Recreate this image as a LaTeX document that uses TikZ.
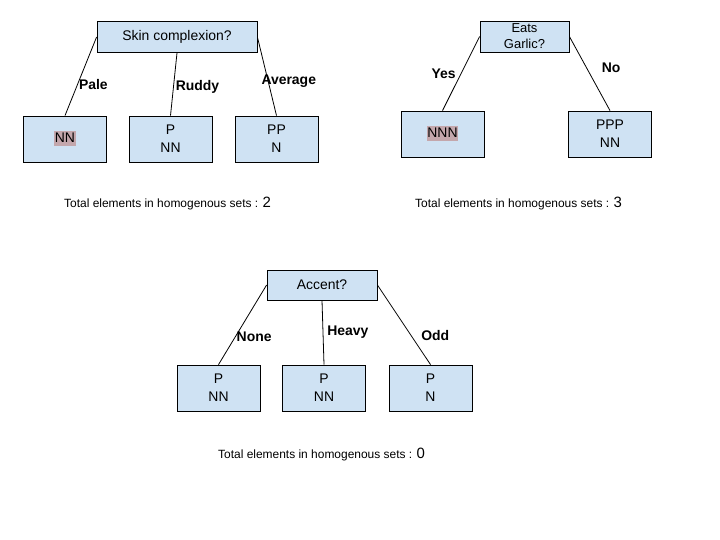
\documentclass[tikz,border=0pt]{standalone}
\usepackage{fontspec}
\setmainfont{Liberation Sans}
\definecolor{boxblue}{HTML}{CFE2F3}
\definecolor{hlpink}{HTML}{C4A7AC}
\newcommand{\hlset}[1]{{\setlength{\fboxsep}{0.5bp}\colorbox{hlpink}{\rule[-3bp]{0pt}{14bp}#1}}}

\begin{document}
\begin{tikzpicture}[
    x=1bp, y=-1bp,
    question/.style={draw, fill=boxblue, line width=0.8bp, minimum height=31bp, inner sep=1bp, align=center, font=\fontsize{14}{16}\selectfont},
    leaf/.style={draw, fill=boxblue, line width=0.8bp, minimum width=83bp, minimum height=46bp, inner sep=1bp, align=center, font=\fontsize{14}{18}\selectfont},
    edge/.style={line width=0.8bp, black},
    lbl/.style={font=\fontsize{14}{16}\selectfont\bfseries, inner sep=1bp},
    total/.style={anchor=base west, inner sep=0pt, font=\fontsize{12}{14}\selectfont}
  ]
  \useasboundingbox (0,0) rectangle (720,540);

  % skin complexion
  \node[question, minimum width=160bp] (skin) at (177,37) {Skin complexion?};
  \node[leaf] (skinpale)  at (65,139)    {\hlset{NN}};
  \node[leaf] (skinruddy) at (170.5,139) {P\\NN};
  \node[leaf] (skinavg)   at (276.5,139) {PP\\N};

  \draw[edge] (skin.west)  -- (skinpale.north)  node[pos=.6, right, lbl]        (lpale)  {Pale};
  \draw[edge] (skin.south) -- (skinruddy.north) node[pos=.55, right=1bp, lbl]   (lruddy) {Ruddy};
  \draw[edge] (skin.east)  -- (skinavg.north)   node[pos=.56, right=-8bp, lbl]  (lavg)   {Average};

  \node[total] (skintotal) at (64,208) {Total elements in homogenous sets : {\fontsize{15}{15}\selectfont 2}};

  % eats garlic
  \node[question, minimum width=89bp, font=\fontsize{13}{16}\selectfont] (garlic) at (524.5,36.5) {Eats\\Garlic?};
  \node[leaf] (garlicyes) at (442.5,134) {\hlset{NNN}};
  \node[leaf] (garlicno)  at (610,134)   {PPP\\NN};

  \draw[edge] (garlic.west) -- (garlicyes.north) node[pos=.5, left=4bp, lbl]   (lyes) {Yes};
  \draw[edge] (garlic.east) -- (garlicno.north)  node[pos=.42, right=14bp, lbl] (lno)  {No};

  \node[total] (garlictotal) at (415,208) {Total elements in homogenous sets : {\fontsize{15}{15}\selectfont 3}};

  % accent
  \node[question, minimum width=110bp, minimum height=30bp] (accent) at (322,285) {Accent?};
  \node[leaf] (accnone)  at (218.5,388) {P\\NN};
  \node[leaf] (accheavy) at (324,388)   {P\\NN};
  \node[leaf] (accodd)   at (430.5,388) {P\\N};

  \draw[edge] (accent.west)  -- (accnone.north)  node[pos=.65, right, lbl]     (lnone)  {None};
  \draw[edge] (accent.south) -- (accheavy.north) node[pos=.5, right=3bp, lbl]  (lheavy) {Heavy};
  \draw[edge] (accent.east)  -- (accodd.north)   node[pos=.63, right=9bp, lbl] (lodd)   {Odd};

  \node[total] (accenttotal) at (218,458) {Total elements in homogenous sets : {\fontsize{15}{15}\selectfont 0}};
\end{tikzpicture}
\end{document}
